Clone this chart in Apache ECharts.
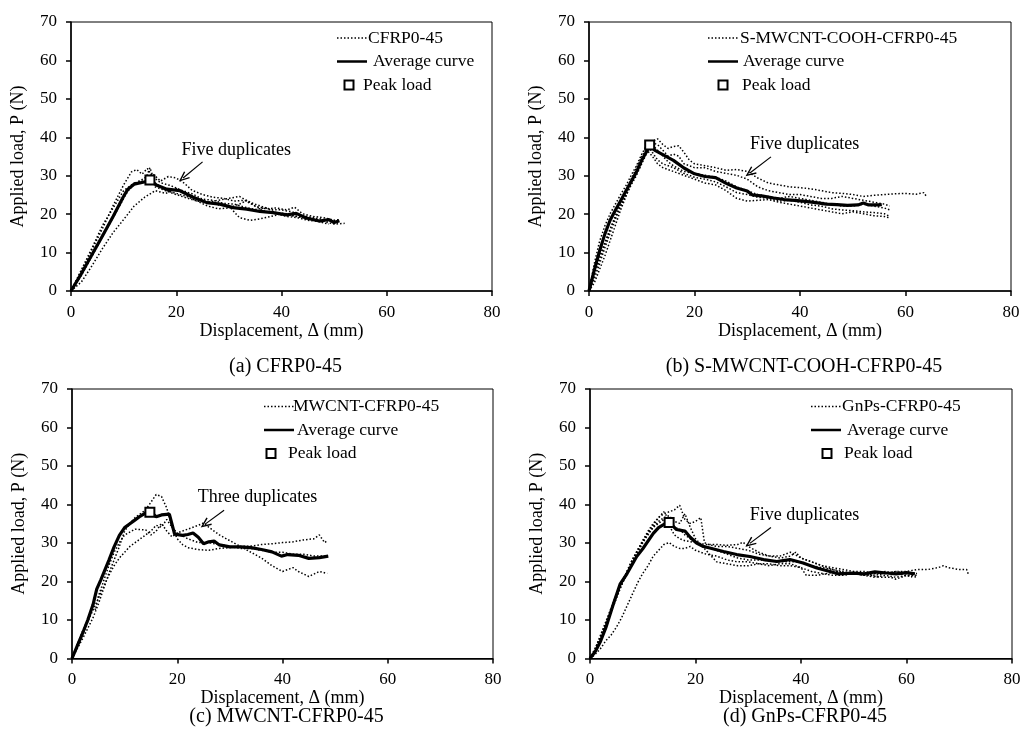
<!DOCTYPE html>
<html><head><meta charset="utf-8">
<script src="https://cdn.jsdelivr.net/npm/echarts@6/dist/echarts.min.js"></script>
<style>html,body{margin:0;padding:0;background:#fff}#c{width:1023px;height:734px}</style>
</head><body><div id="c"></div>
<script>
// ---------------- DATA ----------------
const panelNames = ['CFRP0-45', 'S-MWCNT-COOH-CFRP0-45', 'MWCNT-CFRP0-45', 'GnPs-CFRP0-45'];
const captions = ['(a) CFRP0-45', '(b) S-MWCNT-COOH-CFRP0-45', '(c) MWCNT-CFRP0-45', '(d) GnPs-CFRP0-45'];
const annotationTexts = ['Five duplicates', 'Five duplicates', 'Three duplicates', 'Five duplicates'];
const xTickValues = [0, 20, 40, 60, 80];
const yTickValues = [0, 10, 20, 30, 40, 50, 60, 70];
const xAxisTitle = 'Displacement, Δ (mm)';
const yAxisTitle = 'Applied load, P (N)';

// (a) CFRP0-45
const a_dup1 = [[0,0],[2,5.2],[4,10.8],[6,16.3],[8,22.2],[10,27.6],[11.5,31],[12.5,31.6],[13.5,30.4],[14.5,31.9],[15.5,29.8],[17,28.2],[19,27.4],[21,26.2],[23,25.3],[25,23.9],[27,23.6],[29,22.8],[31,22.6],[33,21.8],[35,21.2],[37,21.6],[39,20.4],[41,20.1],[43,19.4],[45,19.1],[47,18.4],[49,18.2],[51,18.6]];
const a_dup2 = [[0,0],[2,4.6],[4,9.4],[6,14.6],[8,19.4],[10,24.6],[12,27.9],[14,29.4],[15.5,30.6],[17,28.6],[18.5,29.8],[20,29.4],[21.5,28.1],[23,26.2],[25,25.1],[27,24.4],[29,24.1],[31,23.4],[33,23.6],[35,22.1],[37,21.4],[39,21.6],[41,21.1],[42.5,21.8],[44,20.1],[46,19.4],[48,19.1],[50,18.4]];
const a_dup3 = [[0,0],[2,2.4],[4,6.6],[6,11.1],[8,15.2],[10,18.6],[12,22.1],[14,24.4],[16,26.1],[18,25.4],[20,26.6],[22,25.4],[24,24.1],[26,23.1],[28,22.4],[30,22.1],[32,19.1],[34,18.4],[36,18.8],[38,19.4],[40,20.1],[42,19.6],[44,19.1],[46,18.4],[48,18.1],[50,17.4],[52,17.6]];
const a_dup4 = [[0,0],[2,5.6],[4,11.2],[6,17.1],[8,21.6],[10,26.1],[12,28.1],[14,28.4],[15,32.1],[16,28.1],[18,26.2],[20,25.4],[22,24.6],[24,23.4],[26,22.1],[28,21.4],[30,21.6],[32,22.6],[33.5,23.6],[35,22.1],[37,20.6],[39,20.1],[41,19.4],[43,19.1],[45,18.4],[47,18.1],[49,17.4]];
const a_dup5 = [[0,0],[2,4.1],[4,9.1],[6,14.2],[8,19.1],[10,24.1],[11,26.6],[12,28.1],[13,28.4],[15,29.1],[16,27.1],[18,26.1],[20,25.1],[22,24.2],[24,23.4],[26,23.1],[28,23.6],[30,24.1],[32,24.6],[34,23.1],[36,22.1],[38,21.2],[40,21.1],[42,20.6],[44,19.6],[46,19.1],[48,18.6],[50,18.1]];
const a_avg = [[0,0],[2,4.6],[4,9.5],[6,14.4],[8,19.4],[9.9,24.4],[10.8,26.5],[12,27.8],[13.7,28.3],[15,28.7],[16.2,27.6],[18.2,26.5],[20.7,26.1],[23.2,24.4],[25.8,23],[28.3,22.6],[30.8,21.7],[33.4,21.3],[35.9,20.7],[38.4,20.4],[41,19.8],[42.8,20.2],[44.7,19],[47.2,18.2],[49,18.6],[50,17.8],[51,18.3]];
const a_peak = [[15, 28.9]];

// (b) S-MWCNT-COOH-CFRP0-45
const b_dup1 = [[0,0],[1,4.8],[2,8.9],[3,12.6],[4,16.1],[5,19.1],[6,22.1],[7,24.9],[8,27.6],[9,30.1],[10,33.1],[11,36.1],[12,38.9],[13,39.6],[14,38.1],[15,37.1],[16,37.6],[17,37.8],[18,36.1],[19,34.1],[20,33.1],[22,32.6],[24,32.1],[26,31.4],[28,31.6],[30,31.1],[32,29.4],[34,28.1],[36,27.6],[38,27.1],[40,26.9],[42,26.6],[44,26.1],[46,25.6],[48,25.4],[50,25.1],[52,24.6],[54,24.9],[56,25.1],[58,25.3],[60,25.4],[62,25.2],[63.5,25.6],[64,24.5]];
const b_dup2 = [[0,0],[1,7.1],[2,12.9],[3,16.9],[4,20.1],[5,22.6],[6,25.1],[7,27.4],[8,30.1],[9,32.6],[10,35.6],[11,38.1],[12,36.1],[13,34.1],[14,33.1],[16,32.1],[18,30.6],[20,29.6],[22,29.1],[24,28.4],[26,27.1],[28,25.6],[30,25.1],[32,24.4],[34,24.1],[36,23.4],[38,23.6],[40,23.1],[42,22.4],[44,22.1],[46,21.4],[48,21.1],[50,20.9],[52,20.6],[54,20.4],[56,20.1],[57,19.4]];
const b_dup3 = [[0,0],[1,3.1],[2,7.1],[3,11.2],[4,15.1],[5,18.6],[6,22.1],[7,25.1],[8,28.1],[9,31.1],[10,34.1],[11,36.6],[12,35.1],[13,33.1],[14,32.1],[16,31.1],[18,30.1],[20,29.1],[22,28.1],[24,27.6],[26,26.1],[28,24.1],[30,23.4],[32,23.6],[34,23.8],[36,23.1],[38,22.6],[40,22.1],[42,21.6],[44,21.1],[46,20.6],[48,20.1],[50,20.6],[52,20.1],[54,19.6],[56,19.4],[57,19]];
const b_dup4 = [[0,0],[1,2.1],[2,5.6],[3,9.1],[4,13.1],[5,17.1],[6,21.1],[7,24.6],[8,28.1],[9,31.1],[10,34.1],[11,36.6],[12,38.6],[13,38.1],[14,36.6],[15,35.1],[16,35.6],[17,35.1],[18,33.1],[20,32.1],[22,32.1],[24,31.1],[26,30.6],[28,30.1],[30,29.1],[32,27.1],[34,26.1],[36,25.6],[38,25.1],[40,25.1],[42,24.6],[44,24.1],[46,24.1],[48,24.6],[50,24.1],[52,23.6],[54,23.1],[56,22.6],[57,22.1]];
const b_dup5 = [[0,0],[1,4.1],[2,8.1],[3,12.1],[4,16.1],[5,19.6],[6,23.1],[7,26.1],[8,29.1],[9,32.1],[10,35.1],[11,37.1],[12,38.1],[13,36.6],[14,35.1],[15,33.6],[16,32.6],[18,31.1],[20,30.6],[22,30.1],[24,29.6],[26,28.6],[28,27.1],[30,26.1],[32,25.1],[34,24.6],[36,24.1],[38,24.6],[40,24.1],[42,23.6],[44,23.1],[46,22.6],[48,22.1],[50,22.1],[52,22.6],[54,22.1],[56,21.6],[57,21.1]];
const b_avg = [[0,0],[1,5.4],[2,10.4],[3,14.8],[4,18.4],[5,21],[6,23.5],[7,26],[8,28.5],[9,31],[10,34],[11,36.5],[11.5,38],[12.5,36.6],[14,35.5],[16,34],[18,32],[20,30.5],[22,29.8],[24,29.5],[26,28],[28,26.8],[30,26],[31,25],[33,24.7],[35,24.2],[37,23.8],[39,23.6],[41,23.3],[43,23],[45,22.6],[47,22.5],[49,22.3],[51,22.4],[52,22.9],[53,22.4],[55,22.4],[55.5,22.5]];
const b_peak = [[11.5, 38]];

// (c) MWCNT-CFRP0-45
const c_dup1 = [[0,0],[2,5.1],[4,10.6],[5,14.1],[6,18.1],[7,22.1],[8,25.6],[9,29.1],[10,33.1],[11,35.1],[12,36.6],[13,37.6],[14,38.6],[15,40.6],[16,42.6],[17,42.1],[18,39.1],[19,34.1],[20,31.1],[21,29.6],[22,28.8],[24,28.3],[26,28.1],[28,28.6],[30,28.8],[32,29.1],[34,29.2],[36,29.6],[38,29.8],[40,30.1],[42,30.3],[44,30.8],[46,31.1],[47,32.1],[48,30.1],[48.5,30.6]];
const c_dup2 = [[0,0],[1,3.6],[2,7.1],[3,10.1],[4,13.6],[4.5,12.6],[5,16.1],[6,20.1],[7,24.1],[8,27.6],[9,30.1],[10,32.1],[12,33.6],[14,33.4],[15,32.1],[16,33.1],[17,35.1],[18,33.1],[19,31.6],[20,32.6],[22,33.6],[24,34.6],[25,35.2],[26,34.1],[27,33.1],[28,32.1],[30,30.6],[32,29.1],[34,27.6],[36,26.1],[38,24.1],[40,22.6],[42,23.6],[43,22.6],[45,21.3],[47,22.6],[48.5,22.1]];
const c_dup3 = [[0,0],[1,3.1],[2,6.1],[3,9.6],[4,12.6],[5,15.6],[6,18.6],[7,21.6],[8,24.1],[9,26.1],[10,27.6],[11,29.1],[12,30.1],[13,31.1],[14,32.1],[15,33.1],[16,34.6],[17,34.1],[18,36.1],[19,34.1],[20,32.6],[22,31.1],[24,30.1],[26,30.1],[28,29.6],[30,29.1],[32,28.6],[34,28.6],[36,28.1],[38,27.6],[40,27.6],[42,27.1],[44,27.1],[46,26.6],[48,26.6]];
const c_avg = [[0,0],[1,3.3],[2,6.5],[3,10],[4,14],[4.7,18],[5.5,20.5],[7,25.5],[8,29],[9,32],[10,34],[11,35],[12,36],[13,37],[14,37.8],[15,38],[16,36.8],[17,37.3],[18.5,37.5],[19.5,32.3],[21,32],[22,32.2],[23,32.6],[24,31.5],[25,29.8],[26,30.3],[27,30.5],[28,29.5],[30,29],[32,29],[34,28.8],[36,28.3],[38,27.7],[39.8,26.6],[41,27],[43,26.8],[45,26],[47,26.2],[48.7,26.6]];
const c_peak = [[14.8, 38]];

// (d) GnPs-CFRP0-45
const d_dup1 = [[0,0],[1,2.6],[2,5.6],[3,9.1],[4,12.6],[5,16.1],[6,19.6],[7,22.6],[8,25.6],[9,28.1],[10,30.6],[11,33.1],[12,35.1],[13,36.6],[14,37.6],[15,38.1],[16,38.6],[17,39.8],[18,36.1],[19,35.1],[20,35.6],[21,36.6],[21.7,30.1],[22.5,29.6],[24,29.1],[26,29.1],[28,28.6],[30,28.1],[32,27.1],[34,26.6],[36,26.6],[38,27.6],[40,26.1],[42,25.1],[44,24.1],[46,23.6],[48,23.1],[50,22.6],[52,22.6],[54,22.1],[56,22.6],[58,22.1],[60,21.6],[62,21.6]];
const d_dup2 = [[0,0],[1,1.1],[2,2.6],[3,4.6],[4,6.1],[5,8.1],[6,10.6],[7,13.6],[8,16.6],[9,19.6],[10,22.1],[11,24.1],[12,26.6],[13,28.1],[14,29.6],[15,30.1],[16,29.1],[17,28.6],[18,28.6],[19,29.1],[20,28.1],[22,27.1],[24,26.6],[26,25.6],[28,25.1],[30,25.1],[32,24.6],[34,24.6],[36,24.1],[38,24.1],[40,23.6],[42,22.6],[44,22.1],[46,21.6],[48,21.6],[50,22.1],[52,22.1],[54,21.6],[56,22.1],[58,22.6],[60,22.6],[62,23.1],[64,23.1],[66,23.6],[67,24.1],[68,23.6],[70,23.1],[71.4,23.1],[71.8,21.6]];
const d_dup3 = [[0,0],[1,2.6],[2,5.6],[3,9.1],[4,12.6],[5,16.1],[6,19.1],[7,22.1],[8,25.1],[9,27.6],[10,30.1],[11,32.6],[12,34.6],[13,36.6],[14,38.1],[15,36.1],[16,34.1],[17,33.6],[18,32.1],[19,31.1],[20,30.1],[22,29.6],[24,29.6],[26,29.4],[28,29.6],[29,30.2],[30,29.1],[32,27.6],[34,26.6],[36,26.1],[38,26.6],[39,27.6],[40,26.1],[42,25.1],[44,24.1],[46,23.1],[48,22.6],[50,22.1],[52,21.6],[54,21.1],[56,21.6],[58,21.1],[60,21.6],[62,21.1]];
const d_dup4 = [[0,0],[1,2.1],[2,5.1],[3,8.6],[4,12.1],[5,15.6],[6,19.1],[7,22.1],[8,25.1],[9,27.6],[10,30.1],[11,32.1],[12,34.1],[13,35.6],[14,36.6],[15,37.1],[16,35.6],[17,35.1],[18,37.6],[19,34.1],[20,31.1],[22,28.1],[24,25.1],[26,24.6],[28,24.1],[30,24.1],[32,24.6],[34,24.1],[36,24.6],[38,24.6],[40,23.6],[41,21.6],[43,21.6],[45,22.1],[47,22.6],[49,22.1],[51,22.1],[53,21.6],[55,21.1],[57,21.1],[58,20.6],[60,21.6],[61,21.1]];
const d_dup5 = [[0,0],[1,2.6],[2,6.1],[3,9.6],[4,13.1],[5,16.6],[6,19.6],[7,22.6],[8,25.6],[9,28.1],[10,30.6],[11,32.6],[12,34.1],[13,35.1],[14,36.1],[15,34.6],[16,32.1],[17,31.1],[18,30.6],[20,30.1],[22,29.1],[24,28.1],[26,27.1],[28,26.1],[30,25.6],[32,25.6],[34,25.4],[36,25.1],[38,25.1],[40,25.1],[42,24.1],[44,23.6],[46,23.1],[48,22.1],[50,22.1],[52,21.6],[54,22.1],[56,22.1],[58,22.6],[60,22.1],[62,22.1]];
const d_avg = [[0,0],[1,1.8],[2,4.5],[3,8],[4.4,14],[5.7,19.3],[7,22],[8.85,26.5],[10,28.5],[12,32.5],[13,34],[14.5,35.2],[15,35.4],[16.4,33.5],[18,33.1],[19,31.5],[20.2,30],[21.5,29.1],[22.7,28.7],[25.3,27.8],[27.8,27],[30.3,26.5],[32.9,25.7],[35.4,25.2],[37.9,25.7],[40.4,24.8],[43,23.5],[45.5,22.6],[47,22],[49.9,22.2],[52,22],[54,22.5],[56.2,22.2],[58,22],[60,22.3],[61.6,22]];
const d_peak = [[15, 35.3]];

// annotation anchors (data coordinates)
const annotationTextAt = [[21, 36.7], [30.5, 38.3], [23.9, 41.9], [30.3, 37.2]];
const arrowTail = [[25, 33.6], [34.5, 34.9], [28.9, 38.5], [34.3, 34.0]];
const arrowHead = [[21.3, 29.4], [30.5, 30.7], [25.3, 34.9], [30.3, 29.9]];

const duplicates = [[a_dup1,a_dup2,a_dup3,a_dup4,a_dup5],[b_dup1,b_dup2,b_dup3,b_dup4,b_dup5],[c_dup1,c_dup2,c_dup3],[d_dup1,d_dup2,d_dup3,d_dup4,d_dup5]];
const averages = [a_avg, b_avg, c_avg, d_avg];
const peaks = [a_peak, b_peak, c_peak, d_peak];

// ---------------- LAYOUT / STYLE ----------------
const F = 'Liberation Serif, Times New Roman, serif';
const grids = [
  {left: 71, top: 22, width: 421, height: 269},
  {left: 589, top: 22, width: 422, height: 269},
  {left: 72, top: 389, width: 421, height: 269.5},
  {left: 590, top: 389, width: 422, height: 269.5}
];
const xNameGap = [29, 29, 23, 23];
const captionY = [367, 367, 717, 717];
const legendPos = [
  {L: 337, Y: 38, t1: 31, t2: 36, sq: 12, t3: 26},
  {L: 708, Y: 38, t1: 32, t2: 35, sq: 15, t3: 34},
  {L: 264, Y: 406.5, t1: 29, t2: 33, sq: 7, t3: 24},
  {L: 811, Y: 406.5, t1: 31, t2: 36, sq: 16, t3: 33}
];
const legendGap = 23.5;
const chevron = 'path://M5 0 L10 10 L8.6 10.6 L5 3.2 L1.4 10.6 L0 10 Z';

const xAxes = [], yAxes = [], series = [], graphics = [];
grids.forEach((g, i) => {
  xAxes.push({
    gridIndex: i, type: 'value', min: xTickValues[0], max: xTickValues[xTickValues.length - 1],
    interval: xTickValues[1] - xTickValues[0],
    name: xAxisTitle, nameLocation: 'middle', nameGap: xNameGap[i],
    nameTextStyle: {fontFamily: F, fontSize: 18, color: '#000'},
    axisLine: {show: true, onZero: false, lineStyle: {color: '#000', width: 1.5}},
    axisTick: {show: true, inside: false, length: 5, lineStyle: {color: '#000', width: 1.5}},
    axisLabel: {fontFamily: F, fontSize: 17, color: '#000', margin: 13},
    splitLine: {show: false}
  });
  yAxes.push({
    gridIndex: i, type: 'value', min: yTickValues[0], max: yTickValues[yTickValues.length - 1],
    interval: yTickValues[1] - yTickValues[0],
    name: yAxisTitle, nameLocation: 'middle', nameGap: 44, nameRotate: 90,
    nameTextStyle: {fontFamily: F, fontSize: 18, color: '#000'},
    axisLine: {show: true, onZero: false, lineStyle: {color: '#000', width: 1.5}},
    axisTick: {show: true, inside: false, length: 5, lineStyle: {color: '#000', width: 1.5}},
    axisLabel: {fontFamily: F, fontSize: 17, color: '#000', margin: 14},
    splitLine: {show: false}
  });
  duplicates[i].forEach(d => series.push({
    type: 'line', name: panelNames[i], xAxisIndex: i, yAxisIndex: i, data: d,
    symbol: 'none', smooth: false, silent: true, z: 2,
    lineStyle: {color: '#000', width: 1.5, type: [1.5, 2], opacity: 1}
  }));
  series.push({
    type: 'line', name: 'Average curve', xAxisIndex: i, yAxisIndex: i, data: averages[i],
    symbol: 'none', silent: true, z: 3, lineStyle: {color: '#000', width: 3.2, opacity: 1}
  });
  series.push({
    type: 'scatter', name: 'Peak load', xAxisIndex: i, yAxisIndex: i, data: peaks[i],
    symbol: 'rect', symbolSize: 9, silent: true, z: 4,
    itemStyle: {color: '#fff', borderColor: '#000', borderWidth: 2, opacity: 1}
  });
  series.push({
    type: 'scatter', name: 'note' + i, xAxisIndex: i, yAxisIndex: i, data: [annotationTextAt[i]],
    symbolSize: 0, silent: true, z: 5, itemStyle: {color: '#000', opacity: 1},
    label: {show: true, position: 'right', distance: 0, formatter: annotationTexts[i],
      fontFamily: F, fontSize: 18, color: '#000', opacity: 1},
    markLine: {silent: true, symbol: ['none', chevron], symbolSize: [9, 11], animation: false,
      lineStyle: {color: '#000', width: 1.2, type: 'solid', opacity: 1}, label: {show: false},
      data: [[{coord: arrowTail[i]}, {coord: arrowHead[i]}]]}
  });
  // legend (drawn with graphic)
  const p = legendPos[i];
  const ts = {fontFamily: F, fontSize: 17.5, fill: '#000', verticalAlign: 'middle', align: 'left'};
  graphics.push({type: 'line', shape: {x1: p.L, y1: p.Y, x2: p.L + 30, y2: p.Y}, style: {stroke: '#000', lineWidth: 1.5, lineDash: [1.5, 2]}});
  graphics.push({type: 'text', x: p.L + p.t1, y: p.Y, style: Object.assign({text: panelNames[i]}, ts)});
  graphics.push({type: 'line', shape: {x1: p.L, y1: p.Y + legendGap, x2: p.L + 30, y2: p.Y + legendGap}, style: {stroke: '#000', lineWidth: 2.5}});
  graphics.push({type: 'text', x: p.L + p.t2, y: p.Y + legendGap, style: Object.assign({text: 'Average curve'}, ts)});
  graphics.push({type: 'rect', shape: {x: p.L + p.sq - 4.5, y: p.Y + 2 * legendGap - 4.5, width: 9, height: 9}, style: {fill: '#fff', stroke: '#000', lineWidth: 2}});
  graphics.push({type: 'text', x: p.L + p.t3, y: p.Y + 2 * legendGap, style: Object.assign({text: 'Peak load'}, ts)});
  // caption
  graphics.push({type: 'text', x: g.left + g.width / 2 + 4, y: captionY[i],
    style: {text: captions[i], fontFamily: F, fontSize: 20, fill: '#000', align: 'center', verticalAlign: 'middle'}});
});

const chart = echarts.init(document.getElementById('c'), null, {renderer: 'canvas'});
chart.setOption({
  animation: false,
  backgroundColor: '#fff',
  grid: grids.map(g => Object.assign({show: true, borderColor: '#000', borderWidth: 1, backgroundColor: 'transparent', containLabel: false, outerBoundsMode: 'none'}, g)),
  xAxis: xAxes,
  yAxis: yAxes,
  series: series,
  graphic: graphics
});
</script></body></html>
